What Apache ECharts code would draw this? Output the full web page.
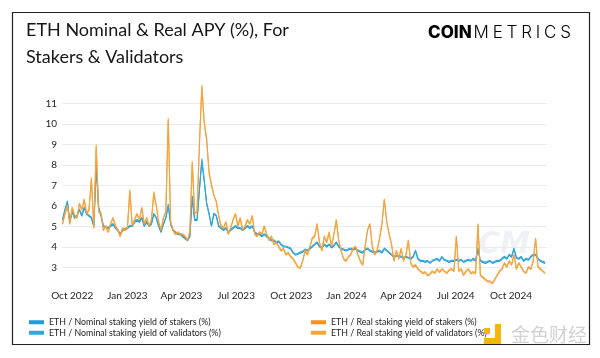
<!DOCTYPE html>
<html>
<head>
<meta charset="utf-8">
<script src="https://cdn.jsdelivr.net/npm/echarts@6/dist/echarts.min.js"></script>
<style>
html,body{margin:0;padding:0;background:#fff;}
#chart{width:600px;height:358px;}
</style>
</head>
<body>
<div id="chart"></div>
<script>
// ---- data (4-day sampling, starting 2022-09-15) ----
const START_DATE = [2022, 8, 15];
const STEP_DAYS = 4;

const nominalStakers = [
5.3,5.8,6.2,5.2,5.7,5.4,5.5,5.8,5.5,5.9,
5.6,5.5,5.4,5.0,7.9,5.9,5.5,5.0,4.95,4.9,
5.0,5.1,4.9,4.8,4.6,4.8,4.85,4.9,5.0,5.0,
5.2,5.3,5.2,5.4,5.0,5.2,5.0,5.1,5.6,5.4,
5.0,4.7,5.1,5.4,6.0,5.1,4.8,4.7,4.6,4.6,
4.5,4.4,4.3,4.5,6.4,5.3,5.3,6.8,8.2,7.2,
6.1,5.6,5.0,5.6,5.5,5.0,4.9,4.8,4.9,4.7,
4.8,4.9,5.0,4.9,4.9,4.8,4.9,5.0,4.9,5.0,
4.7,4.6,4.6,4.5,4.6,4.5,4.4,4.3,4.3,4.2,
4.25,4.1,4.0,4.0,3.95,3.9,3.7,3.6,3.65,3.7,
3.75,3.85,3.8,3.9,4.0,4.1,4.2,4.0,3.95,4.1,
4.0,4.1,3.95,4.05,4.2,4.0,3.9,3.85,3.8,3.85,
3.9,3.85,3.9,3.8,3.75,3.7,3.85,3.9,3.8,3.75,
3.7,3.75,3.8,3.7,3.9,3.8,3.7,3.6,3.5,3.55,
3.55,3.5,3.45,3.5,3.45,3.4,3.5,3.8,3.4,3.3,
3.3,3.25,3.3,3.2,3.3,3.35,3.4,3.3,3.5,3.35,
3.3,3.25,3.3,3.3,3.35,3.3,3.35,3.25,3.3,3.35,
3.3,3.4,3.3,3.9,3.3,3.25,3.2,3.25,3.3,3.2,
3.25,3.3,3.3,3.4,3.5,3.4,3.6,3.5,3.9,3.45,
3.4,3.5,3.3,3.4,3.35,3.5,3.6,3.6,3.4,3.3,
3.25,3.2
];

const nominalValidators = [
5.35,5.85,6.25,5.25,5.75,5.45,5.55,5.85,5.55,5.95,
5.65,5.55,5.45,5.05,8.0,5.95,5.55,5.05,5.0,4.95,
5.05,5.15,4.95,4.85,4.65,4.85,4.9,4.95,5.05,5.05,
5.25,5.35,5.25,5.45,5.05,5.25,5.05,5.15,5.65,5.45,
5.05,4.75,5.15,5.45,6.1,5.15,4.85,4.75,4.65,4.65,
4.55,4.45,4.35,4.55,6.5,5.35,5.35,6.85,8.3,7.25,
6.15,5.65,5.05,5.65,5.55,5.05,4.95,4.85,4.95,4.75,
4.85,4.95,5.05,4.95,4.95,4.85,4.95,5.05,4.95,5.05,
4.75,4.65,4.65,4.55,4.65,4.55,4.45,4.35,4.35,4.25,
4.3,4.15,4.05,4.05,4.0,3.95,3.75,3.65,3.7,3.75,
3.8,3.9,3.85,3.95,4.05,4.15,4.25,4.05,4.0,4.15,
4.05,4.15,4.0,4.1,4.25,4.05,3.95,3.9,3.85,3.9,
3.95,3.9,3.95,3.85,3.8,3.75,3.9,3.95,3.85,3.8,
3.75,3.8,3.85,3.75,3.95,3.85,3.75,3.65,3.55,3.6,
3.6,3.55,3.5,3.55,3.5,3.45,3.55,3.85,3.45,3.35,
3.35,3.3,3.35,3.25,3.35,3.4,3.45,3.35,3.55,3.4,
3.35,3.3,3.35,3.35,3.4,3.35,3.4,3.3,3.35,3.4,
3.35,3.45,3.35,3.95,3.35,3.3,3.25,3.3,3.35,3.25,
3.3,3.35,3.35,3.45,3.55,3.45,3.65,3.55,3.95,3.5,
3.45,3.55,3.35,3.45,3.4,3.55,3.65,3.65,3.45,3.35,
3.3,3.25
];

const realStakers = [
5.1,5.6,6.0,5.1,5.9,5.5,5.4,6.1,5.8,6.3,
5.6,5.8,7.3,4.9,8.9,5.7,5.6,4.8,5.0,4.7,
5.1,5.4,5.0,4.8,4.5,4.9,4.8,4.9,6.7,5.0,
5.3,5.6,5.3,5.9,5.1,5.4,5.0,5.3,6.6,6.0,
5.2,4.8,5.4,5.7,10.2,5.2,4.8,4.6,4.7,4.6,
4.6,4.5,4.3,4.7,8.1,5.6,5.7,9.0,11.8,10.0,
9.2,7.6,7.0,6.5,6.2,5.5,5.0,4.9,5.2,4.6,
4.9,5.3,5.6,5.0,5.4,4.8,5.0,5.3,5.1,5.5,
4.6,4.5,4.7,4.6,5.0,4.6,4.3,4.5,4.1,4.2,
4.0,3.8,3.9,3.6,3.7,3.5,3.4,3.2,3.0,2.95,
3.3,3.8,3.6,4.0,4.4,4.5,5.1,4.2,3.8,4.5,
4.2,4.7,4.0,4.6,5.3,4.3,3.8,3.4,3.3,3.5,
3.6,3.9,4.0,3.6,3.3,3.1,4.0,4.8,5.1,4.0,
3.6,3.8,4.4,5.1,6.3,5.2,4.6,4.1,3.3,3.8,
3.4,3.9,3.3,3.6,4.3,3.2,3.0,3.1,2.9,2.8,
2.7,2.75,2.6,2.65,2.8,2.7,2.9,2.75,2.9,2.8,
2.7,2.85,2.9,2.8,4.5,2.8,2.9,2.6,2.8,2.9,
2.7,2.75,2.7,5.1,2.6,2.5,2.4,2.3,2.3,2.2,
2.4,2.6,2.8,2.9,3.2,3.0,3.3,3.1,3.6,2.9,
3.2,3.0,2.8,2.7,3.0,2.9,3.3,4.4,3.0,2.9,
2.8,2.7
];

const realValidators = [
5.15,5.65,6.05,5.15,5.95,5.55,5.45,6.15,5.85,6.35,
5.65,5.85,7.4,4.95,9.0,5.75,5.65,4.85,5.05,4.75,
5.15,5.45,5.05,4.85,4.55,4.95,4.85,4.95,6.8,5.05,
5.35,5.65,5.35,5.95,5.15,5.45,5.05,5.35,6.7,6.05,
5.25,4.85,5.45,5.75,10.3,5.25,4.85,4.65,4.75,4.65,
4.65,4.55,4.35,4.75,8.2,5.65,5.75,9.1,11.9,10.1,
9.3,7.7,7.05,6.55,6.25,5.55,5.05,4.95,5.25,4.65,
4.95,5.35,5.65,5.05,5.45,4.85,5.05,5.35,5.15,5.55,
4.65,4.55,4.75,4.65,5.05,4.65,4.35,4.55,4.15,4.25,
4.05,3.85,3.95,3.65,3.75,3.55,3.45,3.25,3.05,3.0,
3.35,3.85,3.65,4.05,4.45,4.55,5.15,4.25,3.85,4.55,
4.25,4.75,4.05,4.65,5.35,4.35,3.85,3.45,3.35,3.55,
3.65,3.95,4.05,3.65,3.35,3.15,4.05,4.85,5.15,4.05,
3.65,3.85,4.45,5.15,6.35,5.25,4.65,4.15,3.35,3.85,
3.45,3.95,3.35,3.65,4.35,3.25,3.05,3.15,2.95,2.85,
2.75,2.8,2.65,2.7,2.85,2.75,2.95,2.8,2.95,2.85,
2.75,2.9,2.95,2.85,4.55,2.85,2.95,2.65,2.85,2.95,
2.75,2.8,2.75,5.15,2.65,2.55,2.45,2.35,2.35,2.25,
2.45,2.65,2.85,2.95,3.25,3.05,3.35,3.15,3.65,2.95,
3.25,3.05,2.85,2.75,3.05,2.95,3.35,4.45,3.05,2.95,
2.85,2.75
];

const tickDates = ['2022-10-01','2023-01-01','2023-04-01','2023-07-01','2023-10-01','2024-01-01','2024-04-01','2024-07-01','2024-10-01'];
const tickLabels = ['Oct 2022','Jan 2023','Apr 2023','Jul 2023','Oct 2023','Jan 2024','Apr 2024','Jul 2024','Oct 2024'];
const yTicks = [3,4,5,6,7,8,9,10,11];

const seriesNames = [
  'ETH / Nominal staking yield of stakers (%)',
  'ETH / Nominal staking yield of validators (%)',
  'ETH / Real staking yield of stakers (%)',
  'ETH / Real staking yield of validators (%)'
];

// ---- build ----
function dateAt(i){
  return Date.UTC(START_DATE[0], START_DATE[1], START_DATE[2] + STEP_DAYS*i);
}
function pairs(arr){ return arr.map((v,i)=>[dateAt(i), v]); }
function ts(s){ const p=s.split('-').map(Number); return Date.UTC(p[0],p[1]-1,p[2]); }
const tickTs = tickDates.map(ts);

const FONT = 'Lato';
const chart = echarts.init(document.getElementById('chart'), null, {renderer:'canvas'});

const colors = ['#1f9bd7','#35a6dc','#f7931a','#f4a440'];

const seriesData = [nominalStakers, nominalValidators, realStakers, realValidators];
const series = seriesData.map((d,k)=>({
  name: seriesNames[k],
  type: 'line',
  data: pairs(d),
  showSymbol: false,
  symbol: 'none',
  color: colors[k],
  lineStyle: {width: 1.1, color: colors[k], opacity: k>=2 ? 0.9 : 1},
  z: 3 + k,
  animation: false
}));
series[0].markLine = {
  silent: true, symbol: 'none', animation: false, z: 1,
  label: {show:false},
  lineStyle: {color:'#ebebeb', width:1, type:'solid'},
  data: yTicks.map(v=>({yAxis:v}))
};

const logoRich = {
  b: {fontFamily:'Inter', fontWeight:800, fontSize:17, color:'#1d2540'},
};
const metrics = 'METRICS'.split('');
metrics.forEach((c,i)=>{ logoRich['m'+i] = {fontFamily:'Inter', fontWeight:300, fontSize:17, color:'#1d2540', padding:[0,1.9,0,1.9]}; });
const logoText = '{b|COIN}' + metrics.map((c,i)=>'{m'+i+'|'+c+'}').join('');

const labelMap = {};
tickTs.forEach((t,k)=>{ labelMap[t] = tickLabels[k]; });

chart.setOption({
  backgroundColor: '#fff',
  animation: false,
  title: {
    text: 'ETH Nominal & Real APY (%), For\nStakers & Validators',
    left: 21, top: 12,
    textStyle: {fontFamily: FONT, fontSize: 18, fontWeight: 'normal', color: '#161616', lineHeight: 27}
  },
  grid: {left: 62, right: 53, top: 83, bottom: 70},
  xAxis: {
    type: 'value',
    min: ts('2022-09-14'), max: ts('2024-11-30'),
    axisLine: {show:false}, axisTick: {show:false}, splitLine: {show:false},
    axisLabel: {
      customValues: tickTs,
      formatter: function(v){ return labelMap[v] || ''; },
      fontFamily: FONT, fontSize: 10, color: '#222', margin: 3, hideOverlap: false
    }
  },
  yAxis: {
    type: 'value', min: 2, max: 12, interval: 1,
    axisLine: {show:false}, axisTick: {show:false}, splitLine: {show:false},
    axisLabel: {
      formatter: function(v){ return (v<3 || v>11) ? '' : String(v); },
      fontFamily: FONT, fontSize: 10, color: '#222', margin: 5
    }
  },
  legend: [
    {
      data: [seriesNames[0], seriesNames[1]],
      orient: 'vertical', left: 24, top: 312,
      icon: 'rect', itemWidth: 15, itemHeight: 4, itemGap: 0,
      textStyle: {fontFamily: FONT, fontSize: 8.8, color: '#1a1a1a', lineHeight: 10.5},
      selectedMode: false
    },
    {
      data: [seriesNames[2], seriesNames[3]],
      orient: 'vertical', left: 306, top: 312,
      icon: 'rect', itemWidth: 15, itemHeight: 4, itemGap: 0,
      textStyle: {fontFamily: FONT, fontSize: 8.8, color: '#1a1a1a', lineHeight: 10.5},
      selectedMode: false
    }
  ],
  graphic: [
    {type:'rect', shape:{x:12.5, y:12.5, width:577, height:332}, style:{fill:'none', stroke:'#222', lineWidth:1.2}, z:0, silent:true},
    {type:'text', left: 428, top: 24, style:{text: logoText, rich: logoRich}, z:10},
    {type:'text', left: 478, top: 230, style:{text:'CM', fontFamily:'DejaVu Sans', fontWeight:'bold', fontStyle:'italic', fontSize:30, fill:'rgba(190,198,215,0.25)'}, z:1},
    {type:'rect', shape:{x:484, y:328, width:6, height:6}, style:{fill:'#f5b50a'}, z:10},
    {type:'rect', shape:{x:495, y:324, width:6, height:20}, style:{fill:'#f5b50a'}, z:10},
    {type:'rect', shape:{x:484, y:338, width:17, height:6}, style:{fill:'#f5b50a'}, z:10},
    {type:'text', left: 511, top: 325, style:{text:'金色财经', fontFamily:'Noto Sans CJK SC', fontSize:19, fill:'rgba(205,205,205,0.9)'}, z:10}
  ],
  series: series
});
</script>
</body>
</html>
